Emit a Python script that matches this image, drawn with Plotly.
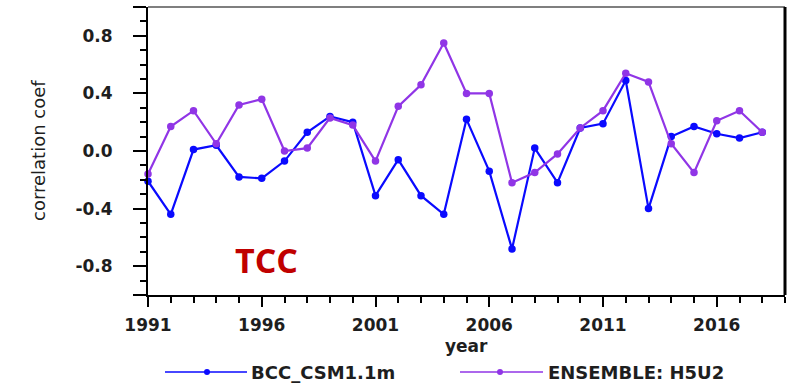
import plotly.graph_objects as go

years = list(range(1991, 2019))
bcc_csm = [-0.21, -0.44, 0.01, 0.04, -0.18, -0.19, -0.07, 0.13, 0.24, 0.20,
           -0.31, -0.06, -0.31, -0.44, 0.22, -0.14, -0.68, 0.02, -0.22, 0.16,
           0.19, 0.49, -0.40, 0.10, 0.17, 0.12, 0.09, 0.13]
ensemble = [-0.16, 0.17, 0.28, 0.05, 0.32, 0.36, 0.00, 0.02, 0.23, 0.18,
            -0.07, 0.31, 0.46, 0.75, 0.40, 0.40, -0.22, -0.15, -0.02, 0.16,
            0.28, 0.54, 0.48, 0.05, -0.15, 0.21, 0.28, 0.13]
series_names = ["BCC_CSM1.1m", "ENSEMBLE: H5U2"]
series_colors = ["#0a0aff", "#9035e6"]

x_tick_values = [1991, 1996, 2001, 2006, 2011, 2016]
x_tick_labels = ["1991", "1996", "2001", "2006", "2011", "2016"]
y_tick_values = [-1.0, -0.8, -0.4, 0.0, 0.4, 0.8, 1.0]
y_tick_labels = ["", "-0.8", "-0.4", "0.0", "0.4", "0.8", ""]

W, H = 798, 383
L, R, T, B = 148, 13, 7, 88
PW, PH = W - L - R, H - T - B


def px(x):
    return (x - L) / PW


def py(y):
    return (H - B - y) / PH


fig = go.Figure()
for vals, name, col in zip([bcc_csm, ensemble], series_names, series_colors):
    fig.add_trace(go.Scatter(x=years, y=vals, name=name, mode="lines+markers",
                             line=dict(color=col, width=2.2),
                             marker=dict(color=col, size=7.5),
                             showlegend=False, cliponaxis=False))

FONT = "DejaVu Sans, Arial, sans-serif"
TXT = "#1e1e1e"
tick_font = dict(family=FONT, size=17, color=TXT, weight="bold")

fig.update_layout(
    width=W, height=H,
    margin=dict(l=L, r=R, t=T, b=B, pad=0),
    paper_bgcolor="white", plot_bgcolor="white",
    xaxis=dict(range=[1991, 2019], tickvals=x_tick_values, ticktext=x_tick_labels,
               ticks="outside", ticklen=10, tickwidth=2, tickcolor="black",
               showline=True, linecolor="black", linewidth=2, showgrid=False,
               zeroline=False, tickfont=tick_font, ticklabelstandoff=4,
               minor=dict(dtick=1, ticks="outside", ticklen=6, tickwidth=1.5,
                          tickcolor="black", showgrid=False)),
    yaxis=dict(range=[-1, 1], tickvals=y_tick_values, ticktext=y_tick_labels,
               ticks="outside", ticklen=13, tickwidth=2, tickcolor="black",
               showline=True, linecolor="black", linewidth=2, showgrid=False,
               zeroline=False, tickfont=tick_font, ticklabelstandoff=17,
               minor=dict(dtick=0.1, tick0=0, ticks="outside", ticklen=6,
                          tickwidth=1.5, tickcolor="black", showgrid=False)),
)

# frame: top (grey) and right (heavy) borders
fig.add_shape(type="line", xref="paper", yref="paper", x0=0, x1=1, y0=1, y1=1,
              line=dict(color="#555555", width=1.5))
fig.add_shape(type="line", xref="paper", yref="paper", x0=1, x1=1, y0=0, y1=1,
              line=dict(color="black", width=3))

# axis titles
fig.add_annotation(text="correlation coef", xref="paper", yref="paper",
                   x=px(38), y=0.5, textangle=-90, showarrow=False,
                   xanchor="center", yanchor="middle",
                   font=dict(family=FONT, size=18, color=TXT))
fig.add_annotation(text="year", xref="paper", yref="paper",
                   x=0.5, y=py(346), showarrow=False,
                   xanchor="center", yanchor="middle",
                   font=dict(family=FONT, size=17, color=TXT, weight="bold"))

# TCC label
fig.add_annotation(text="<b>TCC</b>", xref="paper", yref="paper",
                   x=px(266), y=py(260), showarrow=False,
                   xanchor="center", yanchor="middle",
                   font=dict(family="Open Sans, Lato, sans-serif", size=34, color="#c00000"))

# custom legend
legend_items = [(165, 247, 207, 249), (460, 543, 500, 546)]
ly = py(372)
for (x0, x1, xm, xt), name, col in zip(legend_items, series_names, series_colors):
    fig.add_shape(type="line", xref="paper", yref="paper", x0=px(x0), x1=px(x1),
                  y0=ly, y1=ly, line=dict(color=col, width=1.5))
    fig.add_shape(type="circle", xref="paper", yref="paper", xsizemode="pixel",
                  ysizemode="pixel", xanchor=px(xm), yanchor=ly,
                  x0=-3, x1=3, y0=-3, y1=3, fillcolor=col, line=dict(color=col, width=0))
    fig.add_annotation(text=name, xref="paper", yref="paper", x=px(xt), y=ly,
                       showarrow=False, xanchor="left", yanchor="middle",
                       font=dict(family=FONT, size=18, color=TXT, weight="bold"))

fig.write_html("out.html")
